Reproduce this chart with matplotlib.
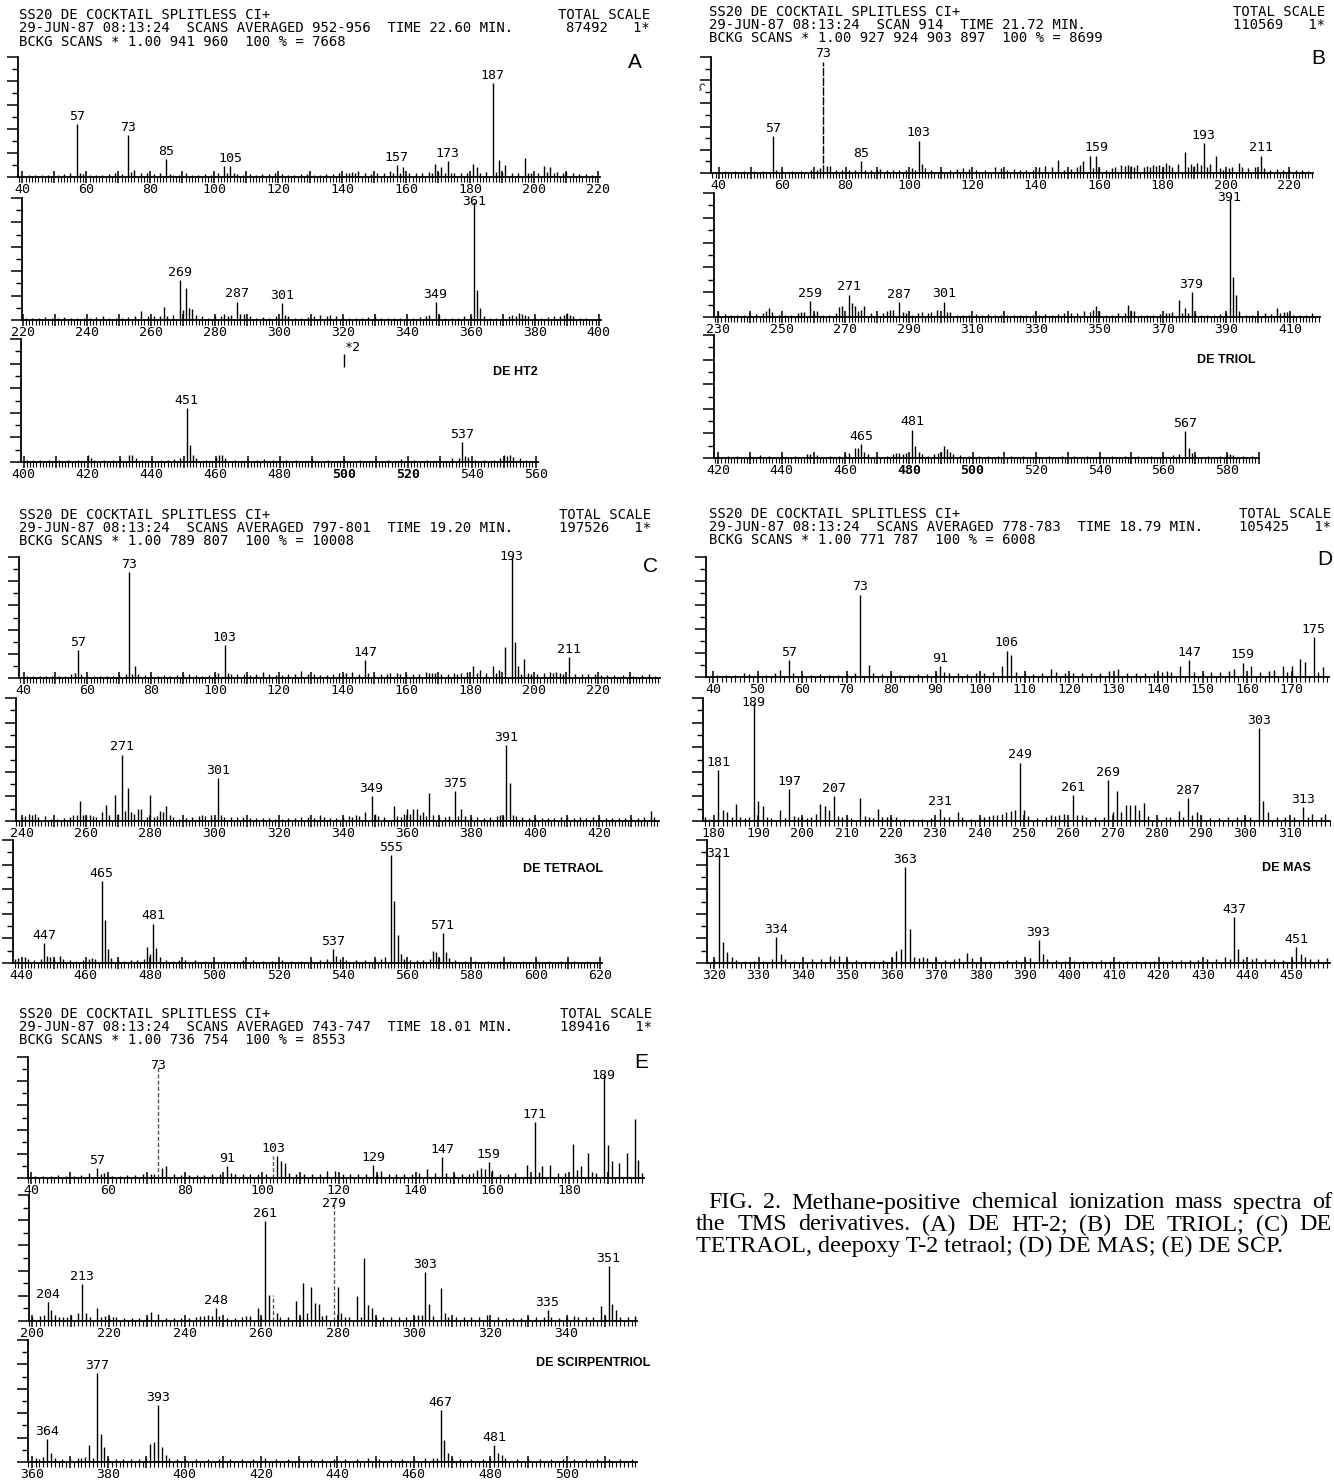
import matplotlib
matplotlib.use("Agg")
import matplotlib.pyplot as plt
from matplotlib.ticker import MultipleLocator

W, H = 1334, 1483
MONO = "DejaVu Sans Mono"

# ---------------- header texts ----------------
A_HEAD = ["SS20 DE COCKTAIL SPLITLESS CI+",
          "29-JUN-87 08:13:24  SCANS AVERAGED 952-956  TIME 22.60 MIN.",
          "BCKG SCANS * 1.00 941 960  100 % = 7668"]
A_TOTAL = ["TOTAL SCALE", "87492   1*"]
B_HEAD = ["SS20 DE COCKTAIL SPLITLESS CI+",
          "29-JUN-87 08:13:24  SCAN 914  TIME 21.72 MIN.",
          "BCKG SCANS * 1.00 927 924 903 897  100 % = 8699"]
B_TOTAL = ["TOTAL SCALE", "110569   1*"]
C_HEAD = ["SS20 DE COCKTAIL SPLITLESS CI+",
          "29-JUN-87 08:13:24  SCANS AVERAGED 797-801  TIME 19.20 MIN.",
          "BCKG SCANS * 1.00 789 807  100 % = 10008"]
C_TOTAL = ["TOTAL SCALE", "197526   1*"]
D_HEAD = ["SS20 DE COCKTAIL SPLITLESS CI+",
          "29-JUN-87 08:13:24  SCANS AVERAGED 778-783  TIME 18.79 MIN.",
          "BCKG SCANS * 1.00 771 787  100 % = 6008"]
D_TOTAL = ["TOTAL SCALE", "105425   1*"]
E_HEAD = ["SS20 DE COCKTAIL SPLITLESS CI+",
          "29-JUN-87 08:13:24  SCANS AVERAGED 743-747  TIME 18.01 MIN.",
          "BCKG SCANS * 1.00 736 754  100 % = 8553"]
E_TOTAL = ["TOTAL SCALE", "189416   1*"]

NAMES = {"A": "DE HT2", "B": "DE TRIOL", "C": "DE TETRAOL",
         "D": "DE MAS", "E": "DE SCIRPENTRIOL"}

CAPTION = ["FIG. 2. Methane-positive chemical ionization mass spectra of",
           "the TMS derivatives. (A) DE HT-2; (B) DE TRIOL; (C) DE",
           "TETRAOL, deepoxy T-2 tetraol; (D) DE MAS; (E) DE SCP."]

# ---------------- spectra: (m/z, relative intensity %) ----------------
A1_PEAKS = [(42, 1.5), (44, 2), (46, 1.5), (48, 2), (51, 2), (53, 2.5), (55, 3), (57, 44), (58, 3), (59, 2.5),
            (61, 2), (63, 1.5), (65, 2), (67, 2.5), (69, 3), (71, 2.5), (73, 35), (74, 4), (75, 6), (77, 3),
            (79, 3.5), (81, 2.5), (83, 3), (85, 15), (86, 2.5), (87, 2), (89, 2), (91, 3), (93, 2), (95, 2),
            (97, 2.5), (99, 2), (101, 3), (103, 9), (104, 3), (105, 9), (106, 3), (107, 2.5), (109, 2),
            (111, 2.5), (113, 2), (115, 2.5), (117, 2.5), (119, 3), (121, 2.5), (123, 2), (125, 2), (127, 2.5),
            (129, 2.5), (131, 2), (133, 2), (135, 2.5), (137, 2.5), (139, 3), (141, 3.5), (142, 3), (143, 4),
            (144, 3), (145, 5), (147, 3), (149, 2.5), (151, 3), (153, 3.5), (155, 5), (156, 3), (157, 10),
            (158, 3), (159, 8), (161, 3), (163, 3), (165, 3), (167, 4), (168, 3), (169, 11), (170, 4), (171, 8),
            (172, 3), (173, 13), (174, 3), (175, 3), (177, 3), (179, 3), (181, 11), (182, 8), (183, 3), (185, 4),
            (187, 78), (188, 4), (189, 14), (190, 4), (191, 10), (193, 3), (195, 3), (197, 16), (198, 3),
            (199, 3), (201, 3), (203, 9), (204, 4), (205, 8), (206, 3), (207, 4), (209, 3), (210, 4), (212, 3),
            (214, 2.5), (216, 2.5), (218, 2)]
A1_LAB = [57, 73, 85, 105, 157, 173, 187]

A2_PEAKS = [(221, 2), (223, 1.5), (225, 2), (227, 2.5), (229, 2), (231, 2), (233, 2.5), (235, 2), (237, 1.5),
            (239, 2), (241, 2), (243, 2.5), (245, 3), (247, 2), (249, 2), (251, 2), (253, 2.5), (255, 3),
            (257, 7), (259, 3), (261, 3), (263, 3), (264, 11), (265, 3), (267, 4), (269, 33), (270, 8),
            (271, 26), (272, 10), (273, 9), (274, 4), (276, 3), (278, 2), (280, 3), (282, 3), (283, 5),
            (284, 3), (285, 4), (287, 15), (288, 5), (289, 5), (291, 3), (293, 2), (295, 2.5), (297, 2),
            (299, 3), (301, 14), (302, 4), (303, 3), (305, 2), (307, 2), (309, 2.5), (311, 3), (313, 4),
            (315, 3), (316, 4), (318, 3), (320, 2), (322, 2), (324, 2), (326, 2), (328, 2.5), (330, 3),
            (332, 2), (334, 2), (336, 2), (338, 2), (340, 2), (342, 2), (344, 2.5), (346, 3), (347, 4),
            (349, 14.5), (350, 4), (352, 2), (354, 2), (356, 2), (358, 3), (360, 3), (361, 97), (362, 25),
            (363, 10), (364, 3), (366, 2), (368, 2), (370, 2), (372, 3), (373, 4), (374, 3.5), (375, 6),
            (376, 5), (377, 4), (378, 3), (380, 2), (382, 2), (384, 2.5), (386, 3), (388, 3.5), (389, 4),
            (390, 6), (391, 4), (392, 3), (394, 2), (396, 2)]
A2_LAB = [269, 287, 301, 349, 361]

A3_PEAKS = [(401, 2), (403, 1.5), (405, 2), (408, 2), (411, 2), (414, 1.5), (417, 2), (420, 6), (421, 3),
            (422, 2), (425, 2), (428, 2), (430, 2.5), (433, 6), (434, 6), (435, 3), (437, 2), (440, 2),
            (443, 2), (445, 2), (447, 2.5), (449, 3), (451, 43.5), (452, 14), (453, 6), (454, 3), (457, 2),
            (460, 3), (461, 6), (462, 6), (463, 3), (466, 2), (470, 2), (473, 2), (475, 2.5), (478, 2),
            (482, 2), (485, 2), (490, 2.5), (495, 2), (500, 2.5), (505, 2), (510, 2), (514, 2), (518, 2.5),
            (522, 2), (526, 2), (530, 2), (534, 3), (536, 3), (537, 16), (538, 5), (539, 4), (541, 2),
            (544, 2), (547, 2), (549, 3), (550, 6), (551, 5), (552, 6), (553, 4), (555, 3), (557, 2)]
A3_LAB = [451, 537]
A3_SCALE_MZ = 500

B1_PEAKS = [(42, 1.5), (45, 2), (48, 2), (51, 2), (54, 2), (57, 32), (58, 3), (60, 2), (63, 2), (66, 2),
            (69, 2.5), (71, 3), (72, 4), (73, 96), (74, 6), (75, 6), (77, 3), (79, 2.5), (81, 2.5), (83, 3),
            (85, 10), (86, 3), (88, 2.5), (90, 3), (91, 3.5), (93, 3), (95, 2.5), (97, 3), (99, 3), (101, 4),
            (102, 3), (103, 28), (104, 8), (105, 4), (107, 2.5), (110, 2.5), (113, 3), (115, 3.5), (117, 4),
            (119, 3.5), (121, 2.5), (124, 3), (127, 5), (129, 4), (131, 3), (133, 3.5), (135, 3), (137, 3),
            (139, 3), (141, 5), (143, 6), (145, 5), (147, 11), (149, 3), (151, 3.5), (153, 5), (154, 7),
            (155, 10), (157, 15), (158, 4), (159, 15), (160, 4), (162, 3), (164, 4), (165, 5), (167, 7),
            (168, 6), (169, 7), (170, 6), (171, 5), (172, 7), (174, 5), (175, 6), (176, 5), (177, 7), (178, 6),
            (179, 7), (180, 5), (181, 9), (182, 7), (183, 5), (185, 8), (187, 18), (188, 5), (189, 8),
            (190, 6), (191, 9), (192, 7), (193, 26), (194, 5), (195, 8), (197, 15), (198, 4), (199, 3),
            (201, 4), (202, 5), (204, 9), (205, 5), (207, 4), (209, 5), (211, 15), (212, 4), (214, 3),
            (216, 3.5), (218, 3), (220, 3), (222, 2.5), (224, 3), (226, 2)]
B1_LAB = [57, 73, 85, 103, 159, 193, 211]

B2_PEAKS = [(230, 4), (232, 2.5), (234, 2), (236, 1.5), (238, 2), (240, 2), (242, 2.5), (244, 3), (245, 5),
            (246, 7), (247, 4), (249, 2), (251, 2), (253, 2), (255, 3), (256, 4), (257, 4), (259, 13),
            (260, 3), (261, 5), (263, 2), (265, 2), (267, 3), (268, 8), (269, 9), (271, 18), (272, 11),
            (273, 9), (274, 5), (275, 6), (276, 9), (278, 3), (280, 2), (282, 3), (283, 5), (284, 6), (285, 6),
            (287, 12), (288, 4), (289, 3), (291, 2), (293, 3), (294, 4), (296, 3), (297, 4), (299, 6),
            (301, 12.5), (302, 4), (303, 4), (305, 2), (307, 2), (309, 2), (311, 2.5), (313, 2), (315, 2.5),
            (317, 2), (319, 2), (321, 2), (323, 2), (325, 2), (327, 2), (329, 2), (331, 2), (333, 2.5),
            (335, 2), (337, 2.5), (339, 3), (341, 3), (343, 3), (345, 5), (347, 4), (348, 6), (349, 9),
            (350, 5), (352, 2), (354, 2), (356, 3), (358, 3), (359, 10), (360, 5), (361, 5), (363, 2),
            (365, 2), (367, 2), (369, 2.5), (371, 3), (372, 3), (373, 4), (375, 13.5), (376, 3), (377, 7),
            (378, 3), (379, 20), (380, 3), (382, 2), (384, 2), (386, 2), (388, 2.5), (390, 3), (391, 96),
            (392, 32), (393, 18), (394, 5), (396, 2), (398, 2), (400, 2), (402, 3), (404, 2.5), (406, 7.5),
            (407, 3), (408, 4), (409, 4), (411, 2), (413, 2), (415, 2), (417, 3)]
B2_LAB = [259, 271, 287, 301, 379, 391]

B3_PEAKS = [(420, 2), (423, 2), (426, 2), (430, 2), (433, 2.5), (436, 2), (440, 2), (444, 2), (448, 3),
            (449, 3), (451, 2.5), (455, 2), (458, 2), (460, 3), (461, 4), (463, 8), (464, 8), (465, 11),
            (466, 5), (467, 3), (470, 2), (473, 2), (475, 3), (476, 4), (477, 4), (478, 3), (479, 4),
            (481, 23), (482, 9.5), (483, 5), (484, 3), (486, 2), (488, 3), (489, 4), (490, 5), (491, 9.5),
            (492, 7), (493, 5), (494, 3), (496, 2.5), (499, 2), (502, 2), (505, 2), (508, 2), (512, 2),
            (516, 2), (520, 2), (524, 2), (528, 2), (532, 2), (536, 2), (540, 2), (544, 2), (548, 2), (552, 2),
            (556, 2), (560, 2), (563, 2.5), (565, 3), (567, 22), (568, 8), (569, 4), (570, 2.5), (574, 2),
            (578, 2), (580, 3), (581, 3), (582, 2.5), (585, 2), (588, 2)]
B3_LAB = [465, 481, 567]

C1_PEAKS = [(41, 2), (43, 2), (45, 2), (47, 2), (49, 2), (51, 2), (53, 2), (55, 3), (56, 4), (57, 23), (58, 3),
            (60, 2), (62, 2), (64, 2), (66, 2), (68, 2), (70, 2.5), (72, 3), (73, 87.6), (74, 3.5), (75, 10),
            (76, 3), (78, 2.5), (80, 2), (82, 2), (84, 2.5), (86, 2), (88, 2.5), (90, 3), (92, 3), (94, 2.5),
            (96, 2), (98, 2.5), (100, 3), (101, 4), (103, 27), (104, 4), (105, 3.5), (107, 3), (109, 3),
            (111, 2.5), (113, 3), (115, 5), (117, 3), (119, 2.5), (121, 2.5), (123, 3), (125, 3), (127, 6),
            (129, 3), (131, 3), (133, 2.5), (135, 2.5), (137, 3), (139, 4), (140, 3.5), (141, 4), (143, 5),
            (145, 3.5), (147, 15), (148, 4), (150, 2.5), (152, 3), (154, 3), (155, 4), (157, 4.5), (158, 3),
            (160, 3), (162, 3), (164, 3), (166, 5), (167, 4), (168, 4), (169, 4), (171, 3), (173, 3.5),
            (175, 4), (176, 3), (177, 4), (179, 5), (181, 10), (182, 4), (183, 7), (185, 4), (187, 10),
            (188, 4), (189, 7), (191, 25.6), (193, 100), (194, 30), (195, 10), (196, 3), (197, 16), (198, 4),
            (199, 3), (201, 3), (203, 4), (205, 5), (206, 4), (207, 5), (208, 4), (209, 3), (211, 17),
            (213, 3), (215, 3), (217, 3.5), (219, 3), (221, 2.5), (223, 2.5), (225, 2.5), (228, 2.5),
            (231, 2), (234, 2.5), (236, 3), (238, 2)]
C1_LAB = [57, 73, 103, 147, 193, 211]

C2_PEAKS = [(240, 3), (241, 4), (242, 6), (243, 5), (244, 6), (245, 3), (247, 4), (249, 2), (251, 2),
            (253, 2.5), (255, 3), (256, 5), (257, 5), (258, 16), (259, 5), (260, 4), (261, 5), (262, 4),
            (263, 3), (265, 7), (266, 13), (267, 5), (269, 21), (270, 6), (271, 54), (272, 8), (273, 27),
            (274, 7), (275, 6), (276, 10), (277, 10), (279, 3), (280, 21), (281, 3), (282, 4), (283, 8),
            (284, 7), (285, 12), (286, 5), (287, 3), (289, 2), (291, 2.5), (293, 3), (295, 4), (296, 5),
            (297, 4), (299, 5), (301, 35), (302, 5), (303, 3), (305, 3), (307, 3), (309, 3), (311, 2.5),
            (313, 2.5), (315, 2.5), (317, 2.5), (319, 2), (321, 2), (323, 2.5), (325, 2.5), (327, 3), (329, 3),
            (331, 2.5), (333, 5), (334, 3), (336, 2.5), (338, 2.5), (340, 3), (342, 4), (343, 3), (344, 5),
            (345, 4), (347, 7), (349, 20), (350, 6), (351, 4), (353, 3), (356, 12), (357, 4), (358, 3),
            (359, 6), (360, 10), (361, 6), (362, 10), (363, 10), (364, 5), (365, 7), (366, 4), (367, 23),
            (368, 5), (370, 3), (372, 3), (373, 4), (375, 24), (376, 4), (377, 10), (378, 4), (380, 3),
            (382, 3), (384, 2.5), (386, 3), (388, 4), (389, 5), (390, 4), (391, 62), (392, 31), (393, 5),
            (394, 4), (396, 3), (398, 2.5), (400, 2.5), (402, 2.5), (404, 2.5), (406, 2.5), (408, 3),
            (410, 3), (412, 2.5), (414, 3), (416, 2.5), (418, 3), (420, 3), (422, 2.5), (424, 2.5),
            (426, 2.5), (428, 2.5), (430, 2.5), (432, 2.5), (434, 3), (436, 8.4), (437, 3)]
C2_LAB = [271, 301, 349, 375, 391]

C3_PEAKS = [(438, 3), (439, 4), (441, 5), (442, 3), (444, 2.5), (446, 3), (447, 16), (448, 6), (449, 5),
            (450, 3), (452, 6), (453, 3), (455, 2.5), (457, 2), (459, 2.5), (461, 3), (462, 4), (463, 3.5),
            (465, 66.6), (466, 35), (467, 11), (468, 4), (470, 2.5), (472, 2), (474, 2.5), (476, 2.5),
            (478, 3), (479, 13), (480, 7), (481, 32), (482, 12), (483, 5), (485, 2.5), (487, 2), (489, 2.5),
            (491, 2.5), (494, 2.5), (497, 2), (500, 2), (503, 2), (506, 2), (509, 2.5), (512, 2.5), (515, 2),
            (518, 2), (521, 2.5), (524, 2), (527, 2), (530, 2.5), (533, 2.5), (535, 3), (537, 11), (538, 6),
            (539, 3), (541, 2.5), (544, 2.5), (547, 2.5), (550, 3), (552, 3), (553, 5), (555, 88),
            (556, 50.5), (557, 22.6), (558, 7), (559, 3), (561, 2.5), (563, 2.5), (565, 2.5), (567, 3),
            (568, 10), (569, 9), (570, 4), (571, 24), (572, 9), (573, 4), (575, 2.5), (578, 2), (581, 2),
            (585, 2), (589, 2), (592, 2), (596, 2), (600, 2.5), (604, 2), (608, 2), (612, 2), (616, 2)]
C3_LAB = [447, 465, 481, 537, 555, 571]

D1_PEAKS = [(41, 1.5), (43, 2), (45, 2), (47, 3), (48, 2.5), (50, 2), (52, 2), (54, 3), (55, 6), (57, 14),
            (58, 3), (60, 2), (62, 2), (64, 2.5), (66, 2), (68, 2), (70, 2.5), (72, 3), (73, 68.6), (75, 10),
            (76, 3), (78, 2.5), (80, 2.5), (82, 2), (84, 2), (86, 2.5), (88, 2.5), (90, 3), (91, 9), (92, 4),
            (93, 3), (95, 3), (97, 2.5), (99, 3), (101, 3.5), (103, 4), (105, 9), (106, 22), (107, 18),
            (108, 4), (110, 3), (112, 2.5), (114, 3), (116, 7), (117, 4), (119, 3), (121, 3.5), (123, 3),
            (125, 3), (127, 3), (129, 5), (131, 7), (133, 3), (135, 3), (137, 3), (139, 3.5), (141, 4.5),
            (142, 5), (143, 4), (145, 9), (147, 14), (148, 4), (150, 3.5), (152, 4), (154, 4), (156, 5),
            (157, 7), (159, 12), (161, 9), (163, 4.5), (165, 5), (166, 6), (168, 9), (169, 4), (170, 9),
            (172, 15), (173, 12.5), (175, 33), (176, 4), (177, 8)]
D1_LAB = [57, 73, 91, 106, 147, 159, 175]

D2_PEAKS = [(178, 3), (179, 2), (181, 41.6), (182, 9), (183, 7), (184, 3), (185, 14), (186, 3), (187, 2.5),
            (188, 3), (189, 96), (190, 16), (191, 12), (192, 3), (193, 2.5), (195, 9), (196, 2.5), (197, 26),
            (198, 4), (199, 3), (200, 3), (201, 2.5), (202, 3), (203, 6), (204, 13.6), (205, 12), (206, 9),
            (207, 20), (208, 4), (209, 3), (210, 3), (211, 2.5), (213, 18.5), (214, 4), (215, 3), (216, 2.5),
            (217, 10), (218, 3), (219, 3.5), (220, 3), (221, 3), (223, 2), (225, 2), (227, 2), (229, 2.5),
            (231, 9.5), (232, 3.5), (233, 3), (235, 7.6), (236, 3), (238, 2), (240, 2.5), (241, 3), (242, 4),
            (243, 4.5), (244, 5), (245, 6), (246, 7), (247, 8), (248, 9), (249, 47.5), (250, 9), (251, 4),
            (253, 2.5), (255, 3), (256, 5), (257, 4), (258, 5), (259, 6), (261, 21), (262, 5), (263, 5),
            (264, 3), (266, 3), (268, 3), (269, 33), (270, 7), (271, 24), (272, 7), (273, 13), (274, 13),
            (275, 13), (276, 9), (277, 15), (278, 4), (280, 2.5), (282, 3), (283, 3), (285, 8.4), (286, 3),
            (287, 18.5), (288, 5), (289, 7.6), (290, 4), (292, 2.5), (294, 2.5), (296, 3), (298, 3), (300, 3),
            (301, 3.5), (303, 75.5), (304, 16), (305, 7), (307, 3), (309, 3), (311, 3), (313, 11), (314, 3),
            (315, 5.7), (317, 3), (318, 6)]
D2_LAB = [181, 189, 197, 207, 231, 249, 261, 269, 287, 303, 313]

D3_PEAKS = [(320, 3), (321, 89), (322, 17), (323, 9), (324, 5), (325, 2.5), (327, 2), (329, 2), (331, 2),
            (333, 3), (334, 21), (335, 7), (336, 3), (338, 2), (340, 2), (342, 3), (344, 3), (346, 6),
            (347, 3), (348, 6), (350, 3), (352, 2.5), (354, 2), (356, 2), (358, 2.5), (360, 4), (361, 10),
            (362, 11), (363, 78), (364, 28), (365, 5), (366, 4), (367, 5), (368, 4), (370, 3), (372, 2.5),
            (374, 3), (375, 4), (377, 8), (378, 4), (380, 2.5), (382, 2), (384, 2), (386, 2.5), (388, 2.5),
            (390, 3), (391, 4), (393, 18.5), (394, 7), (395, 3), (397, 2.5), (399, 2), (401, 2), (403, 2),
            (405, 2), (407, 2.5), (409, 2), (411, 2), (413, 2), (415, 2), (417, 2), (419, 2), (421, 2),
            (423, 2.5), (425, 2.5), (427, 2.5), (429, 2.5), (431, 3), (433, 3), (435, 5), (436, 3),
            (437, 37.5), (438, 11), (439, 3.5), (441, 3), (442, 4), (444, 3), (446, 3), (448, 2.5), (450, 3),
            (451, 13), (452, 7), (453, 5), (454, 3), (456, 3), (458, 4)]
D3_LAB = [321, 334, 363, 393, 437, 451]

E1_PEAKS = [(41, 2), (43, 2), (45, 2), (47, 2.5), (49, 2), (51, 2), (53, 2.5), (55, 4), (57, 8), (58, 3),
            (59, 4), (61, 2), (63, 2), (65, 2.5), (67, 2.5), (69, 3), (71, 3), (72, 3), (73, 93), (74, 8),
            (75, 10), (77, 3), (79, 2.5), (81, 2.5), (83, 2.5), (85, 2.5), (87, 3), (89, 3), (91, 9.6),
            (92, 4), (93, 3), (95, 3), (97, 3), (99, 3), (101, 3), (103, 18), (104, 18), (105, 14), (106, 12),
            (107, 4), (109, 3), (111, 3), (113, 3), (115, 3.5), (117, 5.5), (119, 5.5), (121, 3), (123, 3),
            (125, 3), (127, 3), (129, 10.4), (130, 3), (131, 5.5), (133, 3), (135, 3), (137, 3), (139, 3.5),
            (141, 4), (143, 7.4), (145, 4), (147, 17), (148, 4), (150, 3), (152, 3), (154, 3.5), (155, 4),
            (156, 7), (157, 8), (158, 7.7), (159, 12.9), (160, 7), (162, 3.5), (164, 3.5), (166, 4),
            (169, 10.4), (171, 46), (172, 5), (173, 9.6), (175, 11), (177, 4), (179, 4), (181, 28), (182, 7),
            (183, 9.6), (185, 21), (186, 4.7), (187, 4), (189, 85), (190, 27), (191, 14), (193, 12), (195, 21),
            (197, 49), (198, 14.5), (199, 4)]
E1_LAB = [57, 73, 91, 103, 129, 147, 159, 171, 189]

E2_PEAKS = [(200, 3), (202, 4), (203, 5), (204, 15), (205, 8.7), (206, 4.8), (207, 3), (208, 3), (209, 3),
            (210, 4), (212, 6.6), (213, 29), (214, 6), (215, 3), (217, 10), (218, 3), (219, 4), (220, 3.5),
            (221, 3), (222, 3.5), (224, 2.5), (226, 2.5), (228, 2.5), (230, 3), (231, 6.9), (233, 5.5),
            (235, 2.5), (237, 2.5), (239, 2.5), (241, 2.5), (243, 3), (244, 4), (245, 4), (246, 4.8),
            (247, 4), (248, 10), (249, 4), (251, 2.5), (253, 2.5), (255, 3), (256, 4), (257, 4), (259, 10),
            (260, 3), (261, 79), (262, 20.6), (263, 20.6), (264, 6), (265, 3), (267, 3), (269, 15.9),
            (270, 3), (271, 30), (272, 6.6), (273, 27), (274, 14), (275, 13.5), (276, 4), (277, 4.8),
            (279, 93), (280, 26.7), (281, 6.6), (282, 3), (283, 3.5), (285, 20), (286, 3), (287, 50),
            (288, 13), (289, 10.6), (290, 3), (292, 3), (294, 3), (296, 3), (298, 3), (300, 4), (301, 5),
            (302, 5), (303, 39), (304, 13.5), (305, 4), (307, 26), (308, 6.6), (309, 3), (311, 3), (313, 3),
            (315, 3), (317, 3), (319, 4.8), (322, 3), (324, 2.5), (326, 2.5), (328, 2.5), (330, 3), (332, 3),
            (334, 3), (335, 8.7), (336, 3), (338, 2.5), (340, 3), (342, 4), (343, 3.5), (345, 3), (347, 3),
            (349, 11.9), (350, 4), (351, 43.6), (352, 13.2), (353, 8.7), (354, 3), (356, 3), (358, 4)]
E2_LAB = [204, 213, 248, 261, 279, 303, 335, 351]

E3_PEAKS = [(361, 3), (362, 2.5), (363, 4), (364, 19), (365, 7), (366, 3), (368, 2.5), (370, 2.5), (372, 3),
            (373, 3), (374, 4), (375, 14), (376, 3), (377, 72.6), (378, 22.7), (379, 12), (380, 3),
            (382, 2.5), (384, 2.5), (386, 2.5), (388, 2.5), (390, 3), (391, 14.5), (392, 16.4), (393, 46.6),
            (394, 12), (395, 5.5), (396, 3), (398, 2.5), (400, 2.5), (403, 2.5), (406, 2.5), (409, 2.5),
            (412, 2.5), (415, 2.5), (418, 2.5), (421, 3), (424, 2.5), (427, 2.5), (430, 2.5), (433, 2.5),
            (436, 2.5), (439, 2.5), (442, 2.5), (445, 2.5), (448, 3), (451, 2.5), (454, 2.5), (457, 2.5),
            (460, 2.5), (463, 3), (465, 3), (466, 3), (467, 42.5), (468, 17.8), (469, 7.4), (470, 3),
            (472, 2.5), (475, 2.5), (478, 2.5), (480, 3), (481, 13.7), (482, 7.4), (483, 5.5), (484, 3),
            (487, 2.5), (490, 2.5), (493, 2.5), (496, 2.5), (499, 2.5), (502, 2.5), (505, 2.5), (508, 2.5),
            (511, 2.5), (514, 2.5), (517, 2.5)]
E3_LAB = [364, 377, 393, 467, 481]

# labelled axis values per strip
A_TICKS = [list(range(40, 221, 20)), list(range(220, 401, 20)), list(range(400, 561, 20))]
B_TICKS = [list(range(40, 221, 20)), list(range(230, 411, 20)), list(range(420, 581, 20))]
C_TICKS = [list(range(40, 221, 20)), list(range(240, 421, 20)), list(range(440, 621, 20))]
D_TICKS = [list(range(40, 171, 10)), list(range(180, 311, 10)), list(range(320, 451, 10))]
E_TICKS = [list(range(40, 181, 20)), list(range(200, 341, 20)), list(range(360, 501, 20))]

# ---------------- layout (pixel geometry) ----------------
# (xlo, xhi, ref m/z, ref px, px per m/z, top px, baseline px)
GEOM = {
    "A1": (38.8, 220.6, 40, 22.3, 3.20, 57, 177),
    "A2": (219.6, 400.8, 220, 22.8, 3.20, 198, 320),
    "A3": (399.3, 560.7, 400, 23.6, 3.20, 339, 462),
    "B1": (37.5, 227.5, 40, 718.8, 3.17, 57, 173),
    "B2": (228.5, 419.5, 230, 718.3, 3.176, 193, 317),
    "B3": (418.5, 590.0, 420, 718.3, 3.178, 335, 458),
    "C1": (38.5, 239.5, 40, 23.6, 3.19, 557, 678),
    "C2": (238.0, 438.5, 240, 22.2, 3.206, 698, 821),
    "C3": (437.5, 620.6, 440, 21.5, 3.214, 840, 963),
    "D1": (38.5, 178.5, 40, 713.0, 4.45, 557, 677),
    "D2": (177.5, 319.0, 180, 713.9, 4.43, 698, 821),
    "D3": (318.5, 458.5, 320, 714.1, 4.444, 840, 963),
    "E1": (39.0, 199.5, 40, 31.4, 3.842, 1057, 1178),
    "E2": (199.0, 358.5, 200, 32.4, 3.816, 1195, 1321),
    "E3": (359.0, 518.5, 360, 31.8, 3.82, 1340, 1462),
}
INLINE = {"A2": [361], "B2": [391], "C1": [193], "D2": [189], "D3": [321],
          "E1": [73, 189], "E2": [279]}
FAINT = {"E1": [73, 103], "E2": [263, 279]}
BROKEN = {"B1": [73]}
BOLD_TICKS = {"A3": ["500", "520"], "B3": ["480", "500"]}

fig = plt.figure(figsize=(W / 100, H / 100), dpi=100)
fig.patch.set_facecolor("white")


def fx(x):
    return x / W


def fy(y):
    return 1 - y / H


def draw_strip(key, peaks, labels, ticks):
    lo, hi, ref, ref_px, ppa, top, base = GEOM[key]
    left = ref_px - (ref - lo) * ppa
    ax = fig.add_axes([fx(left), fy(base), (hi - lo) * ppa / W, (base - top) / H])
    ax.set_xlim(lo, hi)
    ax.set_ylim(0, 100)
    ax.patch.set_alpha(0)
    for s in ("top", "right"):
        ax.spines[s].set_visible(False)
    for s in ("left", "bottom"):
        ax.spines[s].set_linewidth(1.3)

    special = FAINT.get(key, []) + BROKEN.get(key, [])
    solid = [(m, h) for m, h in peaks if m not in special]
    ax.vlines([m for m, _ in solid], 0, [h for _, h in solid], color="black", lw=1.0)
    for m, h in peaks:
        if m in FAINT.get(key, []):
            ax.vlines(m, 0, h, color="0.35", lw=1.0, linestyles=(0, (3, 1.5)))
        elif m in BROKEN.get(key, []):
            ax.vlines(m, 0, h, color="black", lw=1.0, linestyles=(0, (6, 1)))

    height = dict(peaks)
    for m in labels:
        h = height[m]
        if m in INLINE.get(key, []):
            ax.text(m, h, str(m), ha="center", va="center", fontsize=9.5,
                    family=MONO, clip_on=False)
        else:
            ax.text(m, h + 1.0, str(m), ha="center", va="bottom", fontsize=9.5,
                    family=MONO, clip_on=False)

    majors = list(range(int(lo // 10 + 1) * 10, int(hi) + 1, 10))
    ax.set_xticks(majors, [str(v) if v in ticks else "" for v in majors],
                  fontsize=9.5, family=MONO)
    ax.xaxis.set_minor_locator(MultipleLocator(1))
    ax.tick_params(axis="x", which="major", direction="inout", length=8, width=1.1, pad=0.5)
    ax.tick_params(axis="x", which="minor", direction="out", length=3.5, width=0.8)
    ax.set_yticks(range(0, 101, 20), [])
    ax.set_yticks(range(10, 100, 20), minor=True)
    ax.tick_params(axis="y", which="major", direction="out", length=8, width=1.1)
    ax.tick_params(axis="y", which="minor", direction="out", length=4.5, width=1.0)
    for lab in ax.get_xticklabels():
        if lab.get_text() in BOLD_TICKS.get(key, []):
            lab.set_fontweight("bold")
    return ax


def header(lines, total, x, right, y_mid):
    # one multi-line block per side, like the printer output
    fig.text(fx(x), fy(y_mid), "\n".join(lines), ha="left", va="center",
             fontsize=10, family=MONO, linespacing=0.95)
    fig.text(fx(right), fy(y_mid), "\n".join(total + [""]), ha="right", va="center",
             multialignment="right", fontsize=10, family=MONO, linespacing=0.95)


# panel A
header(A_HEAD, A_TOTAL, 19, 650, 28.5)
draw_strip("A1", A1_PEAKS, A1_LAB, A_TICKS[0])
draw_strip("A2", A2_PEAKS, A2_LAB, A_TICKS[1])
ax_a3 = draw_strip("A3", A3_PEAKS, A3_LAB, A_TICKS[2])
ax_a3.vlines(A3_SCALE_MZ, 77, 88, color="black", lw=1.0)
ax_a3.text(A3_SCALE_MZ + 3, 93, "*2", ha="center", va="center", fontsize=9.5, family=MONO)

# panel B
header(B_HEAD, B_TOTAL, 709, 1325, 25)
draw_strip("B1", B1_PEAKS, B1_LAB, B_TICKS[0])
draw_strip("B2", B2_PEAKS, B2_LAB, B_TICKS[1])
draw_strip("B3", B3_PEAKS, B3_LAB, B_TICKS[2])
fig.text(fx(701), fy(86), "ς", fontsize=7, rotation=-40, ha="center", va="center")

# panel C
header(C_HEAD, C_TOTAL, 19, 651, 528)
draw_strip("C1", C1_PEAKS, C1_LAB, C_TICKS[0])
draw_strip("C2", C2_PEAKS, C2_LAB, C_TICKS[1])
draw_strip("C3", C3_PEAKS, C3_LAB, C_TICKS[2])

# panel D
header(D_HEAD, D_TOTAL, 709, 1331, 527)
draw_strip("D1", D1_PEAKS, D1_LAB, D_TICKS[0])
draw_strip("D2", D2_PEAKS, D2_LAB, D_TICKS[1])
draw_strip("D3", D3_PEAKS, D3_LAB, D_TICKS[2])

# panel E
header(E_HEAD, E_TOTAL, 19, 652, 1027)
draw_strip("E1", E1_PEAKS, E1_LAB, E_TICKS[0])
draw_strip("E2", E2_PEAKS, E2_LAB, E_TICKS[1])
draw_strip("E3", E3_PEAKS, E3_LAB, E_TICKS[2])

# panel letters and compound names
LETTER_POS = {"A": (635, 62), "B": (1318, 58), "C": (650, 567), "D": (1325, 560), "E": (641, 1062)}
NAME_POS = {"A": (515, 372), "B": (1226, 360), "C": (563, 869), "D": (1286, 868), "E": (593, 1363)}
for k, (x, y) in LETTER_POS.items():
    fig.text(fx(x), fy(y), k, ha="center", va="center", fontsize=15, family="Liberation Sans")
for k, (x, y) in NAME_POS.items():
    fig.text(fx(x), fy(y), NAMES[k], ha="center", va="center", fontsize=9,
             family="Liberation Sans", fontweight="bold")

# caption (justified like the printed page)
renderer = fig.canvas.get_renderer()
last = fig.text(fx(696), fy(1246), CAPTION[2], ha="left", va="center",
                fontsize=14, family="Liberation Serif")
w_last = last.get_window_extent(renderer).width
cap_fs = 14 * 589 / w_last
last.set_fontsize(cap_fs)

for line, x0, y in ((CAPTION[0], 708, 1203), (CAPTION[1], 696, 1225)):
    words = line.split()
    texts = [fig.text(0, fy(y), wd, ha="left", va="center", fontsize=cap_fs,
                      family="Liberation Serif") for wd in words]
    widths = [t.get_window_extent(renderer).width for t in texts]
    gap = (1332 - x0 - sum(widths)) / (len(words) - 1)
    x = x0
    for t, wd in zip(texts, widths):
        t.set_x(fx(x))
        x += wd + gap

fig.savefig("out.png", dpi=100, facecolor="white")
